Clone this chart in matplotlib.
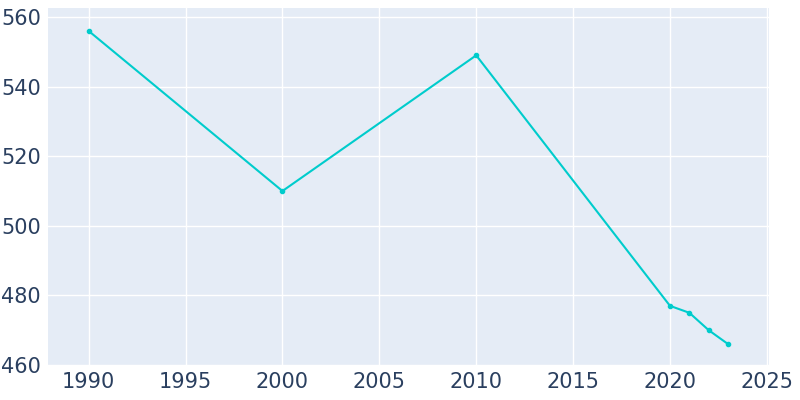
import matplotlib
matplotlib.use('Agg')
import matplotlib.pyplot as plt

years = [1990, 2000, 2010, 2020, 2021, 2022, 2023]
population = [556, 510, 549, 477, 475, 470, 466]
x_ticks = [1990, 1995, 2000, 2005, 2010, 2015, 2020, 2025]
y_ticks = [460, 480, 500, 520, 540, 560]

fig = plt.figure(figsize=(8, 4), dpi=100)
ax = fig.add_axes([0.06, 0.0875, 0.901, 0.8925])
ax.set_facecolor('#e5ecf6')
for s in ax.spines.values():
    s.set_visible(False)

ax.plot(years, population, color='#00cccc', linewidth=1.5, marker='o', markersize=3, zorder=3)

ax.set_xlim(1987.9, 2025.1)
ax.set_ylim(460, 562.6)
ax.set_xticks(x_ticks)
ax.set_yticks(y_ticks)
ax.grid(color='white', linewidth=1)
ax.set_axisbelow(True)
ax.tick_params(length=0, labelsize=15, labelcolor='#2a3f5f', pad=5)

fig.savefig('out.png', dpi=100)
